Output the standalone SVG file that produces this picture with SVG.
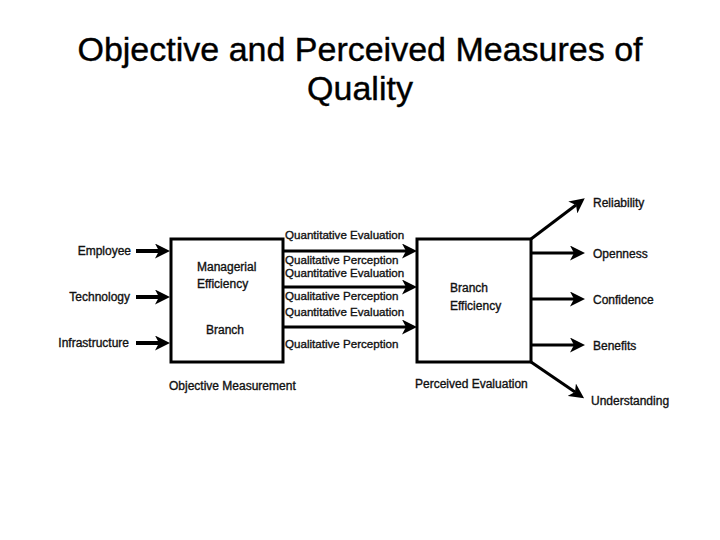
<svg xmlns="http://www.w3.org/2000/svg" width="720" height="540" viewBox="0 0 720 540">
<style>
.title{font-family:"Liberation Sans",Arial,sans-serif;font-size:34px;fill:#000;stroke:#000;stroke-width:0.4}
.lbl{font-family:"Liberation Sans",Arial,sans-serif;font-size:12px;fill:#111;stroke:#111;stroke-width:0.35}
.mid{font-size:11.6px}
.box{fill:#fff;stroke:#000;stroke-width:3}
.arr{stroke:#000;fill:none;marker-end:url(#ah)}
</style>
<defs>
<marker id="ah" viewBox="0 0 15 15" markerWidth="15" markerHeight="15" markerUnits="userSpaceOnUse" refX="4" refY="7.5" orient="auto">
<path d="M0,0 L15,7.5 L0,15 L4,7.5 z" fill="#000"/>
</marker>
</defs>
<rect width="720" height="540" fill="#fff"/>
<text class="title" x="360" y="61" text-anchor="middle">Objective and Perceived Measures of</text>
<text class="title" x="360" y="100" text-anchor="middle">Quality</text>

<g id="connectors">
<line class="arr" x1="136" y1="251" x2="159" y2="251" stroke-width="4"/>
<line class="arr" x1="136" y1="297" x2="159" y2="297" stroke-width="4"/>
<line class="arr" x1="136" y1="343" x2="159" y2="343" stroke-width="4"/>
<line class="arr" x1="283" y1="251" x2="406" y2="251" stroke-width="3"/>
<line class="arr" x1="283" y1="287" x2="406" y2="287" stroke-width="3"/>
<line class="arr" x1="283" y1="327" x2="406" y2="327" stroke-width="3"/>
<line class="arr" x1="531" y1="239" x2="576" y2="205" stroke-width="3"/>
<line class="arr" x1="531" y1="253" x2="574" y2="253" stroke-width="3"/>
<line class="arr" x1="531" y1="299" x2="574" y2="299" stroke-width="3"/>
<line class="arr" x1="531" y1="345" x2="574" y2="345" stroke-width="3"/>
<line class="arr" x1="531" y1="362" x2="575" y2="392" stroke-width="3"/>
</g>

<g id="inputs">
<text class="lbl" x="131" y="255" text-anchor="end">Employee</text>
<text class="lbl" x="130" y="301" text-anchor="end">Technology</text>
<text class="lbl" x="129" y="347" text-anchor="end">Infrastructure</text>
</g>

<g id="objective-box">
<rect class="box" x="171" y="239" width="112" height="123"/>
<text class="lbl" x="197" y="271">Managerial</text>
<text class="lbl" x="197" y="288">Efficiency</text>
<text class="lbl" x="225" y="334" text-anchor="middle">Branch</text>
<text class="lbl" x="169" y="390">Objective Measurement</text>
</g>

<g id="middle-labels">
<text class="lbl mid" x="285" y="239">Quantitative Evaluation</text>
<text class="lbl mid" x="285" y="264">Qualitative Perception</text>
<text class="lbl mid" x="285" y="277">Quantitative Evaluation</text>
<text class="lbl mid" x="285" y="300">Qualitative Perception</text>
<text class="lbl mid" x="285" y="316">Quantitative Evaluation</text>
<text class="lbl mid" x="285" y="348">Qualitative Perception</text>
</g>

<g id="perceived-box">
<rect class="box" x="417" y="239" width="114" height="123"/>
<text class="lbl" x="450" y="292">Branch</text>
<text class="lbl" x="450" y="310">Efficiency</text>
<text class="lbl" x="415" y="388">Perceived Evaluation</text>
</g>

<g id="outputs">
<text class="lbl" x="593" y="207">Reliability</text>
<text class="lbl" x="593" y="258">Openness</text>
<text class="lbl" x="593" y="304">Confidence</text>
<text class="lbl" x="593" y="350">Benefits</text>
<text class="lbl" x="591" y="405">Understanding</text>
</g>
</svg>
